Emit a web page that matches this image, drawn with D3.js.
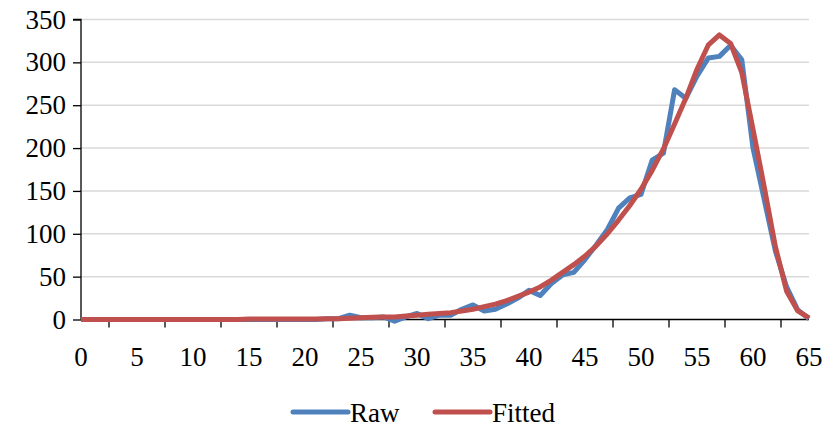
<!DOCTYPE html>
<html><head><meta charset="utf-8">
<script src="https://cdn.jsdelivr.net/npm/d3@7"></script>
<style>body{margin:0;background:#fff}svg{display:block}</style>
</head><body><svg id="c" width="824" height="432" font-family="Liberation Serif, Noto Serif, Nimbus Roman, FreeSerif, DejaVu Serif, Times, serif"></svg>
<script>
const categories = d3.range(0, 66);
const rawValues = [0,0,0,0,0,0,0,0,0,0,0,0,0,0,0,0,0,0,0,0,0,0,1,1,5,2,2,3,-2,3,7,1,5,5,12,17,10,12,18,25,34,28,42,52,55,70,87,105,130,142,146,186,194,268,258,284,305,307,320,303,200,140,80,38,11,1];
const fittedValues = [0,0,0,0,0,0,0,0,0,0,0,0,0,0,0,0.5,0.5,0.5,0.5,0.5,0.5,0.5,1,1,1.5,2,2.5,3,3,4,5,6,7,8,10,12,15,18,22,27,32,38,46,55,64,74,86,100,116,133,152,174,199,228,258,292,320,332,322,288,222,155,85,33,10,2];
const xTickLabels = [0,5,10,15,20,25,30,35,40,45,50,55,60,65];
const yTickValues = [0,50,100,150,200,250,300,350];
const seriesNames = ["Raw","Fitted"];
const colors = ["#4F81BD","#C0504D"];

const FONT = "Liberation Serif, Noto Serif, Nimbus Roman, FreeSerif, DejaVu Serif, Times, serif";
const svg = d3.select("#c");
const L = 81, R = 809, T = 19.5, B = 319.5;
const x = d3.scaleLinear().domain([0,65]).range([L,R]);
const y = d3.scaleLinear().domain([0,350]).range([B,T]);

svg.append("g").selectAll("line").data(yTickValues.filter(v=>v>0)).join("line")
  .attr("x1",L).attr("x2",R).attr("y1",d=>y(d)).attr("y2",d=>y(d))
  .attr("stroke","#D9D9D9").attr("stroke-width",1.5);

const yAxis = d3.axisLeft(y).tickValues(yTickValues).tickSize(8).tickPadding(7).tickFormat(d3.format("d"));
const gy = svg.append("g").attr("transform",`translate(${L},0)`).call(yAxis)
  .attr("font-family",FONT).attr("font-size",27);
gy.select(".domain").attr("stroke","#000").attr("stroke-width",1.3).attr("d",`M-8,${T}H0V${B}`);
gy.selectAll(".tick line").attr("stroke","#000").attr("stroke-width",1.3);
gy.selectAll("text").attr("fill","#000");

const tickPos = d3.range(2.5, 65, 5);
const gx = svg.append("g").attr("transform",`translate(0,${B})`).attr("font-family",FONT).attr("font-size",27);
gx.append("line").attr("x1",L).attr("x2",R).attr("stroke","#000").attr("stroke-width",1.3);
gx.selectAll("line.t").data(tickPos).join("line").attr("class","t")
  .attr("x1",d=>x(d)).attr("x2",d=>x(d)).attr("y1",0).attr("y2",8).attr("stroke","#000").attr("stroke-width",1.3);
gx.selectAll("text").data(xTickLabels).join("text")
  .attr("x",d=>x(d)).attr("y",46).attr("text-anchor","middle")
  .attr("fill","#000").text(d=>d);

const line = d3.line().x((d,i)=>x(categories[i])).y(d=>y(d));
[rawValues, fittedValues].forEach((vals,k)=>{
  svg.append("path").datum(vals).attr("d",line).attr("fill","none")
    .attr("stroke",colors[k]).attr("stroke-width",5).attr("stroke-linejoin","round").attr("stroke-linecap","butt");
});

const lg = svg.append("g").attr("font-family",FONT).attr("font-size",27);
const legendX = [293, 435];
seriesNames.forEach((n,k)=>{
  lg.append("line").attr("x1",legendX[k]).attr("x2",legendX[k]+55).attr("y1",412).attr("y2",412)
    .attr("stroke",colors[k]).attr("stroke-width",5).attr("stroke-linecap","round");
  lg.append("text").attr("x",legendX[k]+57).attr("y",422).attr("fill","#000").text(n);
});
</script></body></html>
